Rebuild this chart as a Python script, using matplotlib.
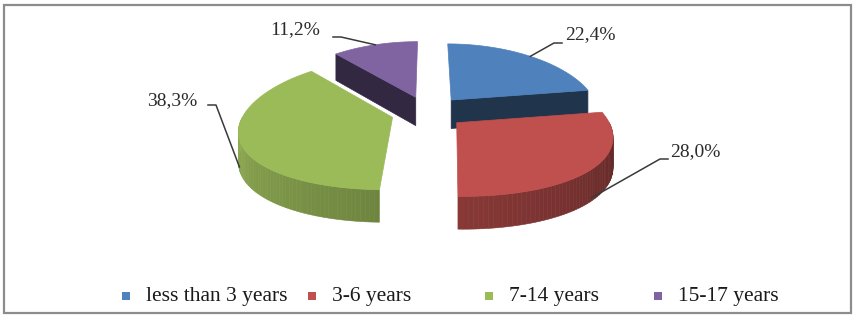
import numpy as np
import matplotlib.pyplot as plt
from matplotlib.patches import Polygon, Rectangle
from matplotlib.colors import to_rgb

# data
categories = ["less than 3 years", "3-6 years", "7-14 years", "15-17 years"]
shares = [22.4, 28.0, 38.3, 11.2]
colors = ["#4F81BD", "#C0504D", "#9BBB59", "#8064A2"]

# layout (pixels): where each % label sits and where its leader line attaches
label_xy = [(565, 35), (670, 152), (197, 101), (320, 30)]
leader_end = [(562, 43), (668, 159), (208, 105), (333, 37)]
legend_x = [126, 312, 489, 658]
legend_y = 296

plt.rcParams['font.family'] = ['Liberation Serif', 'DejaVu Serif']

fig = plt.figure(figsize=(8.57, 3.21), dpi=100)
ax = fig.add_axes([0, 0, 1, 1])
ax.set_xlim(0, 857)
ax.set_ylim(321, 0)
ax.axis('off')

# simple 3d projection of a tilted pie
cx, cy = 428, 112
rx, ry, h = 148, 64, 29
persp_x, persp_y = 0.18, 0.1
expl = 0.25


def proj(X, Y, Z):
    X = np.asarray(X, float)
    Y = np.asarray(Y, float)
    sx = 1.0 / (1 + persp_x * Y)
    sy = 1.0 / (1 + persp_y * Y)
    return cx + rx * X * sx, cy - (ry * Y + h * Z) * sy


def shade(c, f):
    r, g, b = to_rgb(c)
    return (r * f, g * f, b * f)


edges = np.concatenate([[0], np.cumsum(shares)]) / sum(shares) * 360
slices = []
for i in range(len(shares)):
    t1, t2 = edges[i], edges[i + 1]
    mid = np.radians((t1 + t2) / 2)
    slices.append((i, t1, t2, expl * np.sin(mid), expl * np.cos(mid)))

# back slices first
for i, t1, t2, ox, oy in sorted(slices, key=lambda s: -s[4]):
    col = colors[i]

    def rim(t, Z):
        tr = np.radians(t)
        return proj(ox + np.sin(tr), oy + np.cos(tr), Z)

    # radial cut faces (only the ones clearly turned towards the viewer)
    for t, vis in [(t1, np.sin(np.radians(t1)) < -0.2), (t2, np.sin(np.radians(t2)) > 0.2)]:
        if not vis:
            continue
        a0 = proj(ox, oy, 0)
        a1 = proj(ox, oy, -1)
        r0 = rim(t, 0)
        r1 = rim(t, -1)
        pts = [(float(a0[0]), float(a0[1])), (float(r0[0]), float(r0[1])),
               (float(r1[0]), float(r1[1])), (float(a1[0]), float(a1[1]))]
        ax.add_patch(Polygon(pts, closed=True, fc=shade(col, 0.4), ec=shade(col, 0.4), lw=0.5))

    # outer curved side (front half only), shaded left-lit
    a, b = max(t1, 90), min(t2, 270)
    if a < b:
        ts = np.linspace(a, b, 60)
        for k in range(len(ts) - 1):
            seg = np.linspace(ts[k], ts[k + 1], 3)
            xt, yt = rim(seg, 0)
            xb, yb = rim(seg[::-1], -1)
            f = 0.48 + 0.45 * ((ts[k] + ts[k + 1]) / 2 - 90) / 180
            ax.add_patch(Polygon(np.column_stack([np.r_[xt, xb], np.r_[yt, yb]]),
                                 closed=True, fc=shade(col, f), ec=shade(col, f), lw=0.4))

    # top face
    ts = np.linspace(t1, t2, 120)
    xt, yt = rim(ts, 0)
    ax0, ay0 = proj(ox, oy, 0)
    ax.add_patch(Polygon(np.column_stack([np.r_[ax0, xt], np.r_[ay0, yt]]),
                         closed=True, fc=col, ec=col, lw=0.5))

# data labels with leader lines
for i, t1, t2, ox, oy in slices:
    mid = (t1 + t2) / 2
    z = -0.9 if np.cos(np.radians(mid)) < 0 else 0
    px, py = proj(ox + np.sin(np.radians(mid)), oy + np.cos(np.radians(mid)), z)
    lx, ly = leader_end[i]
    right = np.sin(np.radians(mid)) > 0
    tail = lx - 8 if right else lx + 8
    ax.plot([float(px), tail, lx], [float(py), ly, ly], color="#3a3a3a", lw=1.1)
    txt = f"{shares[i]:.1f}%".replace(".", ",")
    tx, ty = label_xy[i]
    ax.text(tx, ty, txt, ha="left" if right else "right", va="center",
            fontsize=14, color="#2b2b2b")

# legend
for i, name in enumerate(categories):
    ax.add_patch(Rectangle((legend_x[i] - 4, legend_y - 4), 8, 8, fc=colors[i], ec="none"))
    ax.text(legend_x[i] + 20, legend_y, name, ha="left", va="center", fontsize=15.5, color="#1a1a1a")

# outer frame
ax.add_patch(Rectangle((4, 5), 847, 308, fill=False, ec="#8c8c8c", lw=1.6))

fig.savefig("out.png", dpi=100)
